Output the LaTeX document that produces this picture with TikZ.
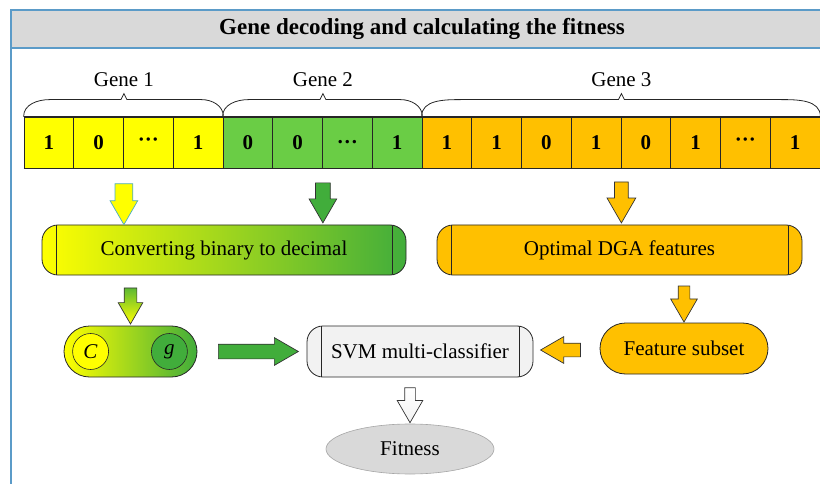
\documentclass[tikz,border=0pt]{standalone}
\usepackage{fontspec}
\setmainfont{Liberation Serif}
\usepackage{tikz}
\usetikzlibrary{shapes.arrows,shapes.geometric,calc,positioning}

\definecolor{frameblue}{HTML}{5B9BC8}
\definecolor{bandgray}{HTML}{D9D9D9}
\definecolor{geneyellow}{HTML}{FFFF00}
\definecolor{genegreen}{HTML}{6ACD45}
\definecolor{darkgreen}{HTML}{41AD3B}
\definecolor{midgreen}{HTML}{C8E000}
\definecolor{geneorange}{HTML}{FFC000}
\definecolor{svmgray}{HTML}{F2F2F2}
\definecolor{arrowblue}{HTML}{4BACC6}

\tikzset{
  txt/.style={font=\fontsize{21}{25}\selectfont},
  bitcell/.style={draw=black!85, line width=0.8pt, minimum width=49.75pt, minimum height=51pt,
    inner sep=0pt, font=\bfseries\fontsize{21}{25}\selectfont},
  procbox/.style={draw=black!85, line width=0.8pt, rounded corners=16pt, minimum height=50pt, txt,
    path picture={\draw[black!85, line width=0.8pt]
      ([xshift=14pt]path picture bounding box.north west) -- ([xshift=14pt]path picture bounding box.south west)
      ([xshift=-14pt]path picture bounding box.north east) -- ([xshift=-14pt]path picture bounding box.south east);}},
  capsule/.style={draw=black!85, line width=0.8pt, rounded corners=25.5pt, minimum height=51pt, txt},
  fatarrow/.style={single arrow, draw=black!80, line width=0.7pt, inner xsep=0pt, inner ysep=7pt,
    single arrow head extend=6.5pt, single arrow tip angle=60},
  downarrow/.style={fatarrow, shape border rotate=270, inner ysep=0pt, inner xsep=7pt},
  genebrace/.style={draw=black!85, line width=0.8pt},
}

\begin{document}
\begin{tikzpicture}[x=1pt, y=-1pt]
\useasboundingbox (0,0) rectangle (820,484);

% frame and title band
\fill[bandgray] (11,10) rectangle (824,48);
\draw[frameblue, line width=1.2pt] (11,490) -- (11,10) -- (824,10);
\draw[frameblue, line width=1.2pt] (11,48) -- (824,48);
\node[font=\bfseries\fontsize{23}{27}\selectfont] (title) at (422,29) {Gene decoding and calculating the fitness};

% chromosome
\foreach \b/\c [count=\i] in {1/geneyellow, 0/geneyellow, ···/geneyellow, 1/geneyellow,
    0/genegreen, 0/genegreen, …/genegreen, 1/genegreen,
    1/geneorange, 1/geneorange, 0/geneorange, 1/geneorange,
    0/geneorange, 1/geneorange, ···/geneorange, 1/geneorange}
  \node[bitcell, fill=\c] (b\i) at ({24+49.75*(\i-0.5)},142.5) {\b};
\draw[black!85, line width=1.6pt] (b1.north west) -- (b16.north east) (b1.south west) -- (b16.south east);

% braces
\coordinate (t1) at ($(b2.north east)+(0,-23)$);
\coordinate (t2) at ($(b6.north east)+(0,-23)$);
\coordinate (t3) at ($(b12.north east)+(0,-23)$);
\draw[genebrace] (b1.north west) to[out=90,in=180] ($(b1.north west)+(26,-17)$) -- ($(t1)+(-3,6)$) -- (t1) -- ($(t1)+(3,6)$) -- ($(b4.north east)+(-22,-17)$) to[out=0,in=90] (b4.north east);
\draw[genebrace] (b5.north west) to[out=90,in=180] ($(b5.north west)+(26,-17)$) -- ($(t2)+(-3,6)$) -- (t2) -- ($(t2)+(3,6)$) -- ($(b8.north east)+(-22,-17)$) to[out=0,in=90] (b8.north east);
\draw[genebrace] (b9.north west) to[out=90,in=180] ($(b9.north west)+(40,-17)$) -- ($(t3)+(-3,6)$) -- (t3) -- ($(t3)+(3,6)$) -- ($(b16.north east)+(-40,-17)$) to[out=0,in=90] (b16.north east);
\node[txt, inner sep=0pt, above=7pt of t1] (gene1) {Gene 1};
\node[txt, inner sep=0pt, above=7pt of t2] (gene2) {Gene 2};
\node[txt, inner sep=0pt, above=7pt of t3] (gene3) {Gene 3};

% decoding boxes
\node[procbox, minimum width=364pt, left color=geneyellow, middle color=midgreen, right color=darkgreen] (conv) at (224,250) {Converting binary to decimal};
\node[procbox, minimum width=365pt, fill=geneorange] (dga) at (619.5,250) {Optimal DGA features};
\node[capsule, minimum width=133pt, left color=geneyellow, middle color=midgreen, right color=darkgreen] (cg) at (130.5,351.5) {};
\node[circle, draw=black!85, line width=0.6pt, fill=geneyellow, minimum size=36pt, inner sep=0pt, txt] (cpar) at ([xshift=27pt]cg.west) {\textit{C}};
\node[circle, draw=black!85, line width=0.6pt, fill=darkgreen, minimum size=36pt, inner sep=0pt, txt] (gpar) at ([xshift=-28pt]cg.east) {\textit{g}};
\node[procbox, minimum width=226pt, minimum height=51pt, fill=svmgray] (svm) at (420,351.5) {SVM multi-classifier};
\node[capsule, minimum width=168pt, fill=geneorange] (subset) at (684,348.5) {Feature subset};
\node[ellipse, draw=black!35, line width=0.6pt, fill=bandgray, minimum width=168pt, minimum height=50pt, txt] (fitness) at (410,449) {Fitness};

% block arrows
\node[downarrow, minimum height=41pt, inner xsep=8.5pt, single arrow head extend=5pt, fill=geneyellow, draw=arrowblue] (a1) at ($(b2.south east)!0.5!(b2.south east |- conv.north)$) {};
\node[downarrow, minimum height=40pt, fill=darkgreen] (a2) at ($(b6.south east)!0.5!(b6.south east |- conv.north)$) {};
\node[downarrow, minimum height=41pt, inner xsep=6.5pt, single arrow head extend=7.5pt, fill=geneorange] (a3) at ($(b12.south east)!0.5!(b12.south east |- dga.north)$) {};
\node[downarrow, minimum height=36pt, inner xsep=6pt, single arrow head extend=6pt, top color=darkgreen!85!yellow, bottom color=geneyellow] (a4) at ($(cg.north |- conv.south)!0.5!(cg.north)$) {};
\node[fatarrow, minimum height=80pt, fill=darkgreen] (a5) at ($(cg.east)!0.5!(svm.west)$) {};
\node[fatarrow, shape border rotate=180, minimum height=40pt, inner ysep=6.5pt, fill=geneorange] (a6) at ($(subset.west)!0.5!(svm.east)$) {};
\node[downarrow, minimum height=36pt, inner xsep=5.5pt, single arrow head extend=7.5pt, fill=geneorange] (a7) at ($(subset.north |- dga.south)!0.5!(subset.north)$) {};
\node[downarrow, minimum height=35pt, inner xsep=5pt, single arrow head extend=7.5pt, top color=white, bottom color=svmgray] (a8) at ($(fitness.north |- svm.south)!0.5!(fitness.north)$) {};
\end{tikzpicture}
\end{document}
